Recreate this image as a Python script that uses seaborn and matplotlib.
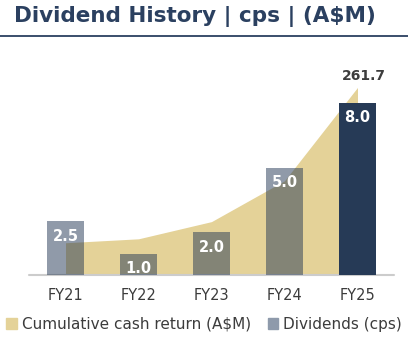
import matplotlib
matplotlib.use("Agg")
import matplotlib.pyplot as plt
import seaborn as sns
import pandas as pd
from matplotlib.lines import Line2D
from matplotlib.patches import Patch

years = ["FY21", "FY22", "FY23", "FY24", "FY25"]
dividends = [2.5, 1.0, 2.0, 5.0, 8.0]
cumulative = [45.0, 50.5, 74.5, 131.5, 261.7]
dividend_labels = ["2.5", "1.0", "2.0", "5.0", "8.0"]
total_label = "261.7"
title = "Dividend History | cps | (A$M)"
legend_labels = ["Cumulative cash return (A$M)", "Dividends (cps)"]

NAVY = "#263a56"
GOLD = "#e4d298"
GREY_BAR = "#8e9aab"
TEXT = "#3c3c3c"

sns.set_theme(style="white")
plt.rcParams['font.family'] = ['DejaVu Sans']

W, H = 408, 344
fig = plt.figure(figsize=(W / 100, H / 100), dpi=100)
ax = fig.add_axes([29 / W, 69 / H, 365 / W, 215 / H])

df = pd.DataFrame({"year": years, "div": dividends, "cum": cumulative})
xs = list(range(len(years)))
ax.fill_between(xs, df["cum"], 0, color=GOLD, lw=0)
ax.set_ylim(0, 300)

ax2 = ax.twinx()
sns.barplot(data=df, x="year", y="div", color=NAVY, width=0.5, ax=ax2,
            saturation=1)
for i, p in enumerate(ax2.patches):
    p.set_alpha(1.0 if i == len(ax2.patches) - 1 else 0.51)
    p.set_linewidth(0)
ax2.set_ylim(0, 10)
ax.set_xlim(-0.5, 4.5)

for i, (v, lbl) in enumerate(zip(dividends, dividend_labels)):
    ax2.annotate(lbl, (i, v), xytext=(0, -10.8), textcoords="offset points",
                 ha="center", va="center", color="white", fontsize=10.5,
                 fontweight="bold")

ax.annotate(total_label, (4, cumulative[-1]), xytext=(4.5, 8.5),
            textcoords="offset points", ha="center", va="center",
            color="#3d3d3d", fontsize=10, fontweight="bold")

for a in (ax, ax2):
    for s in a.spines.values():
        s.set_visible(False)
ax2.set_yticks([])
ax.set_yticks([])
ax.set_xticks(xs)
ax.set_xticklabels(years, color=TEXT, fontsize=10.5)
ax.tick_params(axis="x", length=0, pad=9)
ax.set_xlabel("")
ax.set_ylabel("")
ax2.set_xlabel("")
ax2.set_ylabel("")
ax.axhline(0, color="#cccccc", lw=1.5, clip_on=False, zorder=5)

fig.text(14 / W, 1 - 22 / H, title, ha="left", va="baseline", fontsize=15.5,
         color="#2b4060", fontweight="semibold")
fig.add_artist(Line2D([0, 1], [1 - 35.7 / H, 1 - 35.7 / H], color="#2b4060",
                      lw=1.3, transform=fig.transFigure))

handles = [Patch(color=GOLD), Patch(color=GREY_BAR)]
leg = fig.legend(handles, legend_labels, loc="center",
                 bbox_to_anchor=(0.5, 20 / H), ncol=2, frameon=False,
                 fontsize=11, handlelength=0.7, handleheight=0.7,
                 handletextpad=0.3, columnspacing=1.1)
for t in leg.get_texts():
    t.set_color(TEXT)

fig.savefig("out.png", dpi=100)
